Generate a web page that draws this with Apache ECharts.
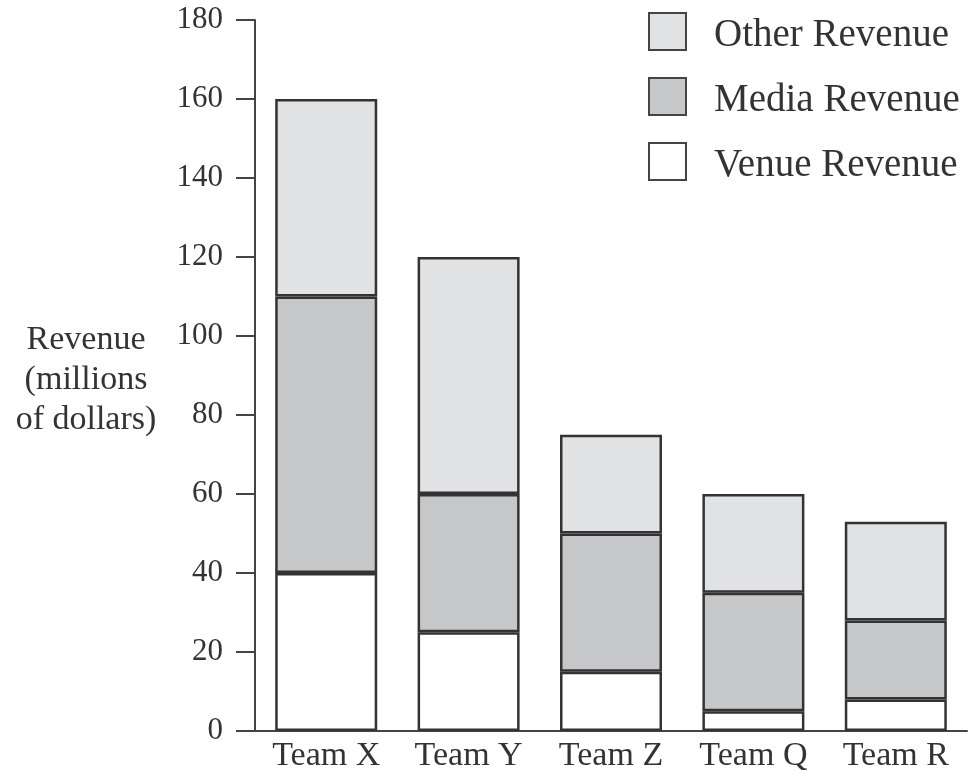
<!DOCTYPE html>
<html>
<head>
<meta charset="utf-8">
<script src="https://cdn.jsdelivr.net/npm/echarts@6/dist/echarts.min.js"></script>
<style>html,body{margin:0;padding:0;background:#fff}#c{width:969px;height:774px}</style>
</head>
<body>
<div id="c"></div>
<script>
const categories = ['Team X', 'Team Y', 'Team Z', 'Team Q', 'Team R'];
const venueRevenue = [40, 25, 15, 5, 8];
const mediaRevenue = [70, 35, 35, 30, 20];
const otherRevenue = [50, 60, 25, 25, 25];
const yTicks = [0, 20, 40, 60, 80, 100, 120, 140, 160, 180];

const font = '"Liberation Serif", "DejaVu Serif", serif';
const textColor = '#333';
const chart = echarts.init(document.getElementById('c'));
const seriesStyle = (color) => ({ color: color, borderColor: '#333', borderWidth: 2.5 });
chart.setOption({
  animation: false,
  backgroundColor: '#fff',
  grid: { left: 255, right: 2, top: 20, bottom: 43, containLabel: false },
  legend: {
    orient: 'vertical', left: 648, top: 12, padding: 0,
    itemWidth: 37, itemHeight: 37, itemGap: 22,
    icon: 'rect',
    data: ['Other Revenue', 'Media Revenue', 'Venue Revenue'],
    itemStyle: { borderColor: '#444', borderWidth: 2 },
    formatter: (name) => '{t|' + name + '}',
    textStyle: {
      fontFamily: font, fontSize: 39, color: textColor,
      rich: { t: { fontFamily: font, fontSize: 39, color: textColor, lineHeight: 47, verticalAlign: 'bottom', padding: [0, 0, 0, 23] } }
    }
  },
  graphic: [{
    type: 'text', x: 86, y: 320,
    style: { text: 'Revenue\n(millions\nof dollars)', fontFamily: font, fontSize: 34, fill: textColor, align: 'center', verticalAlign: 'top', lineHeight: 40 }
  }],
  xAxis: {
    type: 'category', data: categories,
    axisLine: { lineStyle: { color: '#444', width: 2 } },
    axisTick: { show: false },
    axisLabel: { fontFamily: font, fontSize: 34, color: textColor, margin: 8 }
  },
  yAxis: {
    type: 'value', min: 0, max: 180, interval: 20,
    splitLine: { show: false },
    axisLine: { show: true, lineStyle: { color: '#444', width: 2 } },
    axisTick: { show: true, length: 19, lineStyle: { color: '#444', width: 2 } },
    axisLabel: { fontFamily: font, fontSize: 31, color: textColor, margin: 32,
      formatter: (v) => yTicks.includes(v) ? String(v) : '' }
  },
  series: [
    { name: 'Venue Revenue', type: 'bar', stack: 'r', data: venueRevenue, barWidth: 102, itemStyle: seriesStyle('#ffffff') },
    { name: 'Media Revenue', type: 'bar', stack: 'r', data: mediaRevenue, barWidth: 102, itemStyle: seriesStyle('#c6c7c9') },
    { name: 'Other Revenue', type: 'bar', stack: 'r', data: otherRevenue, barWidth: 102, itemStyle: seriesStyle('#e1e2e4') }
  ]
});
</script>
</body>
</html>
